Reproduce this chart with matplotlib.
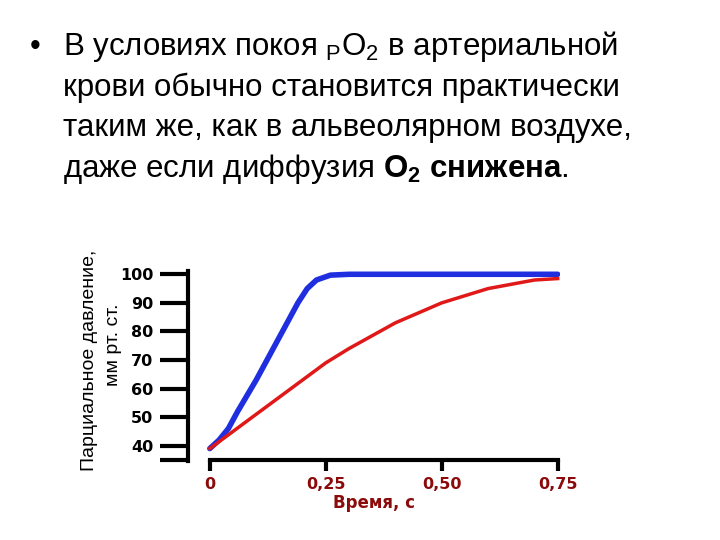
import matplotlib
matplotlib.use("Agg")
import matplotlib.pyplot as plt

# data
time_s = [0, 0.02, 0.04, 0.06, 0.10, 0.15, 0.19, 0.21, 0.23, 0.26, 0.30, 0.75]
normal = [39, 42, 46, 52, 63, 78, 90, 95, 98, 99.7, 100, 100]
time_r = [0, 0.05, 0.10, 0.15, 0.20, 0.25, 0.30, 0.40, 0.50, 0.60, 0.70, 0.75]
reduced = [39, 45, 51, 57, 63, 69, 74, 83, 90, 95, 98, 98.5]
y_ticks = [40, 50, 60, 70, 80, 90, 100]
x_ticks = [0, 0.25, 0.50, 0.75]
x_labels = ["0", "0,25", "0,50", "0,75"]

plt.rcParams["font.family"] = ["Liberation Sans", "DejaVu Sans"]
plt.rcParams["mathtext.fontset"] = "custom"
plt.rcParams["mathtext.rm"] = "Liberation Sans"
plt.rcParams["mathtext.bf"] = "Liberation Sans:bold"

fig = plt.figure(figsize=(7.2, 5.4), dpi=100)

# slide text
lines = [
    r"В условиях покоя $_\mathregular{P}$O$_\mathregular{2}$ в артериальной",
    "крови обычно становится практически",
    "таким же, как в альвеолярном воздухе,",
    r"даже если диффузия $\mathbf{O_2}$ $\mathbf{снижена}$.",
]
fig.text(30 / 720, 1 - 47 / 540, "•", fontsize=22, va="center")
for i, line in enumerate(lines):
    fig.text(63 / 720, 1 - (47 + 40.5 * i) / 540, line, fontsize=22.5, va="center")

ax = fig.add_axes([188 / 720, 1 - 460 / 540, (560 - 188) / 720, (460 - 270) / 540])
ax.plot(time_s, normal, color="#1f2fe0", lw=4, solid_capstyle="round")
ax.plot(time_r, reduced, color="#e01818", lw=2.5)
ax.set_xlim(-0.047, 0.755)
ax.set_ylim(35, 101.5)

for s in ["top", "right"]:
    ax.spines[s].set_visible(False)
ax.spines["left"].set_linewidth(3)
ax.spines["bottom"].set_linewidth(3)
ax.spines["left"].set_bounds(34.5, 101)
ax.spines["bottom"].set_bounds(0, 0.75)

ax.set_yticks([35] + y_ticks)
ax.set_yticklabels([""] + [str(v) for v in y_ticks], fontsize=11.5, fontweight="bold",
                   family="DejaVu Sans")
ax.tick_params(axis="y", length=20, width=3, pad=5)
ax.set_xticks(x_ticks)
ax.set_xticklabels(x_labels, fontsize=11.5, fontweight="bold", color="#8b0a0a",
                   family="DejaVu Sans")
ax.tick_params(axis="x", length=8, width=3, pad=4)
ax.set_xlabel("Время, с", fontsize=12, fontweight="bold", color="#8b0a0a", labelpad=2,
              family="DejaVu Sans")

fig.text(90 / 720, 1 - 360 / 540, "Парциальное давление,", rotation=90,
         ha="center", va="center", fontsize=14)
fig.text(114 / 720, 1 - 345 / 540, "мм рт. ст.", rotation=90,
         ha="center", va="center", fontsize=14)

fig.savefig("out.png", dpi=100)
